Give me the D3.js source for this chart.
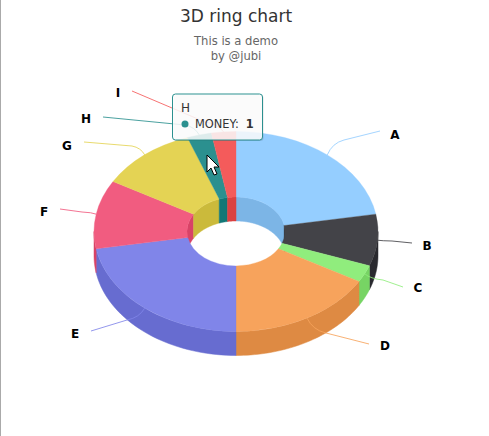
<!DOCTYPE html>
<html>
<head>
<meta charset="utf-8">
<script src="https://cdn.jsdelivr.net/npm/d3@7/dist/d3.min.js"></script>
<style>
  html, body { margin: 0; padding: 0; background: #fff; }
  svg { display: block; font-family: "DejaVu Sans", sans-serif; }
</style>
</head>
<body>
<svg id="chart" width="489" height="436"></svg>
<script>
// values
let categories = ["A", "B", "C", "D", "E", "F", "G", "H", "I"]
let money = [8, 3, 1, 6, 8, 4, 4, 1, 1]
let colors = ["#95ceff", "#434348", "#90ed7d", "#f7a35c", "#8085e9", "#f15c80", "#e4d354", "#2b908f", "#f45b5b"]
let sideColors = ["#7cb5e6", "#2a2a2f", "#77d464", "#de8a43", "#676cd0", "#d84367", "#cbba3b", "#127776", "#db4242"]

let width = 489
let height = 436
let centerX = 236
let centerY = 231.5
let outerRadius = 142
let innerRadius = 49
let tilt = 0.704 // ry / rx of the top face
let depth = 24

// where each connector ends and where its letter sits
let labelLayout = {
  A: { end: [380, 131], bend: [344, 140], text: [395, 134] },
  B: { end: [412, 243], bend: [392, 241], text: [427, 245] },
  C: { end: [403, 287], bend: [383, 280], text: [418, 287] },
  D: { end: [369, 344], bend: [326, 333], text: [385, 345] },
  E: { end: [91, 331], bend: [127, 320], text: [75, 333] },
  F: { end: [60, 209], bend: [82, 212], text: [44, 211] },
  G: { end: [84, 142], bend: [132, 146], text: [67, 145] },
  H: { end: [103, 117], bend: [185, 125], text: [86, 118] },
  I: { end: [132, 91], bend: [205, 122], text: [118, 92] }
}

let svg = d3.select("#chart")

// page edge on the left
svg.append("rect").attr("x", 0).attr("y", 0).attr("width", 1).attr("height", height).attr("fill", "#aaa")

svg.append("text").attr("x", 236).attr("y", 22).attr("text-anchor", "middle")
  .style("font-size", "17px").attr("fill", "#333").text("3D ring chart")
svg.append("text").attr("x", 236).attr("y", 45).attr("text-anchor", "middle")
  .style("font-size", "11.6px").attr("fill", "#666").text("This is a demo")
svg.append("text").attr("x", 236).attr("y", 60).attr("text-anchor", "middle")
  .style("font-size", "11.6px").attr("fill", "#666").text("by @jubi")

let slices = d3.pie().sort(null).value(d => d.value)(
  categories.map((name, i) => ({ name: name, value: money[i], color: colors[i], side: sideColors[i] }))
)

function rimPoint(angle, radius, drop) {
  return [centerX + radius * Math.sin(angle), centerY - tilt * radius * Math.cos(angle) + drop]
}

// band between two angles on one cylinder, from the top rim down to the bottom rim
function wallPath(start, end, radius) {
  let steps = d3.range(0, 41).map(i => start + (end - start) * i / 40)
  let top = steps.map(a => rimPoint(a, radius, 0))
  let bottom = steps.map(a => rimPoint(a, radius, depth)).reverse()
  return d3.line()(top.concat(bottom)) + "Z"
}

let walls = svg.append("g")

// the outer wall faces the viewer between 90 and 270 degrees
slices.forEach(d => {
  let start = Math.max(d.startAngle, Math.PI / 2)
  let end = Math.min(d.endAngle, Math.PI * 3 / 2)
  if (start < end) {
    walls.append("path").attr("d", wallPath(start, end, outerRadius))
      .attr("fill", d.data.side).attr("stroke", d.data.side).attr("stroke-width", 0.5)
  }
})

// the inner wall faces the viewer on the far side of the hole
slices.forEach(d => {
  let ranges = [[d.startAngle, Math.min(d.endAngle, Math.PI / 2)], [Math.max(d.startAngle, Math.PI * 3 / 2), d.endAngle]]
  ranges.forEach(r => {
    if (r[0] < r[1]) {
      walls.append("path").attr("d", wallPath(r[0], r[1], innerRadius))
        .attr("fill", d.data.side).attr("stroke", d.data.side).attr("stroke-width", 0.5)
    }
  })
})

let arc = d3.arc().innerRadius(innerRadius).outerRadius(outerRadius)

svg.append("g")
  .attr("transform", `translate(${centerX},${centerY}) scale(1,${tilt})`)
  .selectAll("path")
  .data(slices)
  .enter().append("path")
  .attr("d", arc)
  .attr("fill", d => d.data.color)
  .attr("stroke", d => d.data.color)
  .attr("stroke-width", 0.4)

// connectors and letters
slices.forEach(d => {
  let layout = labelLayout[d.data.name]
  let mid = (d.startAngle + d.endAngle) / 2
  let rim = rimPoint(mid, outerRadius, 0)
  let p = d3.path()
  p.moveTo(layout.end[0], layout.end[1])
  p.lineTo(layout.bend[0], layout.bend[1])
  p.quadraticCurveTo(layout.bend[0] + (rim[0] - layout.bend[0]) * 0.7, layout.bend[1] + (rim[1] - layout.bend[1]) * 0.2, rim[0], rim[1])
  svg.append("path").attr("d", p.toString()).attr("fill", "none")
    .attr("stroke", d.data.color).attr("stroke-width", 1).attr("stroke-opacity", 0.85)
  svg.append("text").attr("x", layout.text[0]).attr("y", layout.text[1] + 4.5)
    .attr("text-anchor", "middle").style("font-size", "12px").style("font-weight", "bold")
    .attr("fill", "#000").text(d.data.name)
})

// tooltip for the hovered slice
let hovered = slices[7]
let tooltip = svg.append("g").attr("transform", "translate(172.5,94)")
tooltip.append("rect").attr("x", 1).attr("y", 1).attr("width", 90).attr("height", 46).attr("rx", 3)
  .attr("fill", "#000").attr("opacity", 0.12)
tooltip.append("rect").attr("width", 90).attr("height", 46).attr("rx", 3)
  .attr("fill", "rgba(255,255,255,0.85)").attr("stroke", hovered.data.color).attr("stroke-width", 1)
tooltip.append("text").attr("x", 8.5).attr("y", 18).style("font-size", "12px").attr("fill", "#333").text(hovered.data.name)
tooltip.append("circle").attr("cx", 12.5).attr("cy", 30).attr("r", 3.5).attr("fill", hovered.data.color)
let line = tooltip.append("text").attr("x", 22.5).attr("y", 34).style("font-size", "11.4px").attr("fill", "#333")
line.append("tspan").text("MONEY:")
line.append("tspan").attr("dx", 7).style("font-weight", "bold").text(hovered.data.value)

// mouse pointer
svg.append("path")
  .attr("transform", "translate(207,155)")
  .attr("d", "M0,0 L0,17 L4,13 L7,20 L10,19 L7,12 L12,12 Z")
  .attr("fill", "#fff").attr("stroke", "#000").attr("stroke-width", 1)
</script>
</body>
</html>
